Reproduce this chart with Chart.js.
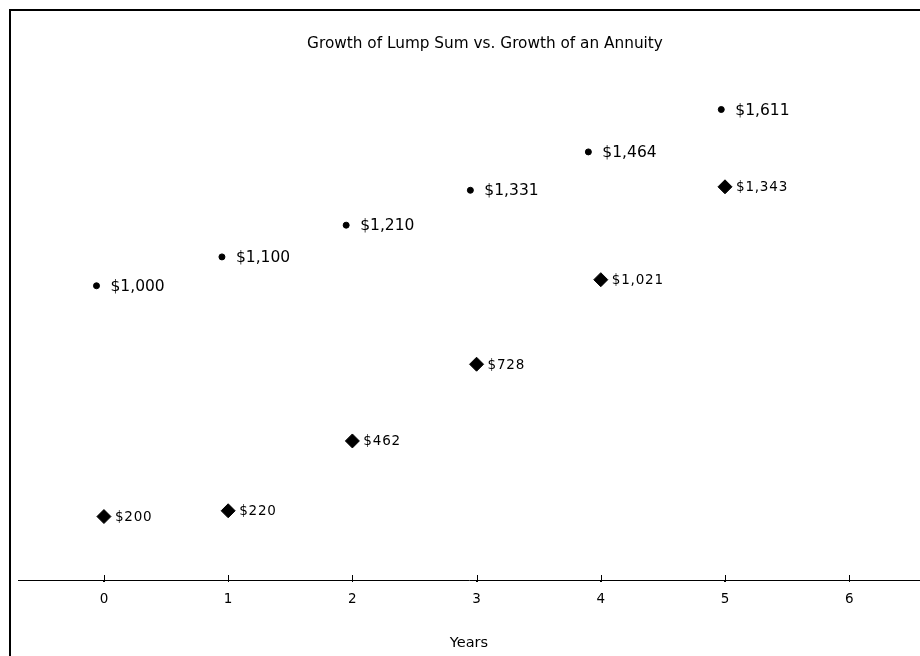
<!DOCTYPE html>
<html>
<head>
<meta charset="utf-8">
<script src="https://cdn.jsdelivr.net/npm/chart.js@4"></script>
<style>
  html, body { margin: 0; padding: 0; background: #fff; overflow: hidden; }
  #wrap { position: relative; width: 920px; height: 656px; }
</style>
</head>
<body>
<div id="wrap"><canvas id="chart" width="920" height="656"></canvas></div>
<script>
// values
let lumpYears = [-0.06, 0.95, 1.95, 2.95, 3.9, 4.97];
let lumpValues = [1000, 1100, 1210, 1331, 1464, 1611];
let annuityYears = [0, 1, 2, 3, 4, 5];
let annuityValues = [200, 220, 462, 728, 1021, 1343];
let xTicks = [0, 1, 2, 3, 4, 5, 6];

const chartTitle = 'Growth of Lump Sum vs. Growth of an Annuity';
const font = '"DejaVu Sans", Verdana, sans-serif';

function money(v) {
    return '$' + v.toLocaleString('en-US');
}

// frame, title and the little tick marks above the axis
let decorPlugin = {
    id: 'decor',
    afterDraw(chart) {
        let ctx = chart.ctx;
        ctx.save();
        ctx.strokeStyle = '#000';
        ctx.lineWidth = 2;
        ctx.strokeRect(10, 10, chart.width + 20, chart.height + 20);

        ctx.fillStyle = '#000';
        ctx.font = '15.3px ' + font;
        ctx.textAlign = 'center';
        ctx.textBaseline = 'middle';
        ctx.fillText(chartTitle, 485, 44);

        let x = chart.scales.x;
        ctx.lineWidth = 1;
        ctx.beginPath();
        for (let t of xTicks) {
            let px = Math.round(x.getPixelForValue(t)) + 0.5;
            ctx.moveTo(px, x.top - 5);
            ctx.lineTo(px, x.top + 2);
        }
        ctx.stroke();
        ctx.restore();
    }
};

// value labels to the right of each point
let labelPlugin = {
    id: 'pointLabels',
    afterDatasetsDraw(chart) {
        let ctx = chart.ctx;
        ctx.save();
        ctx.fillStyle = '#000';
        ctx.textBaseline = 'middle';
        ctx.textAlign = 'left';
        chart.data.datasets.forEach((ds, i) => {
            let meta = chart.getDatasetMeta(i);
            ctx.font = ds.labelFont;
            ctx.letterSpacing = ds.labelSpacing;
            meta.data.forEach((pt, j) => {
                ctx.fillText(money(ds.data[j].y), pt.x + ds.labelGap, pt.y + 1);
            });
        });
        ctx.restore();
    }
};

let ctx = document.getElementById('chart').getContext('2d');
let chartObject = new Chart(ctx, {
    type: 'scatter',
    data: {
        datasets: [
            {
                label: 'Lump Sum',
                data: lumpYears.map((x, i) => ({ x: x, y: lumpValues[i] })),
                pointStyle: 'circle',
                pointRadius: 3,
                borderWidth: 1,
                backgroundColor: '#000',
                borderColor: '#000',
                labelFont: '15.5px ' + font,
                labelSpacing: '0px',
                labelGap: 14
            },
            {
                label: 'Annuity',
                data: annuityYears.map((x, i) => ({ x: x, y: annuityValues[i] })),
                pointStyle: 'rectRot',
                pointRadius: 7,
                borderWidth: 1,
                backgroundColor: '#000',
                borderColor: '#000',
                labelFont: '13.5px ' + font,
                labelSpacing: '0.8px',
                labelGap: 11
            }
        ]
    },
    options: {
        responsive: false,
        animation: false,
        events: [],
        layout: { autoPadding: false, padding: { left: 18, right: 0, top: 72, bottom: 0 } },
        plugins: {
            legend: { display: false },
            title: { display: false },
            tooltip: { enabled: false }
        },
        scales: {
            x: {
                type: 'linear',
                min: -0.692,
                max: 6.57,
                afterBuildTicks: s => { s.ticks = xTicks.map(v => ({ value: v })); },
                afterFit: s => { s.height = 76; },
                border: { display: true, color: '#000', width: 1 },
                grid: { drawOnChartArea: false, drawTicks: true, tickLength: 2, color: '#000' },
                ticks: { color: '#000', padding: 9, font: { family: font, size: 13.5 } },
                title: {
                    display: true,
                    text: 'Years',
                    color: '#000',
                    font: { family: font, size: 14.5 },
                    padding: { top: 0, bottom: 4 }
                }
            },
            y: {
                display: false,
                min: -20,
                max: 1741
            }
        }
    },
    plugins: [decorPlugin, labelPlugin]
});
</script>
</body>
</html>
